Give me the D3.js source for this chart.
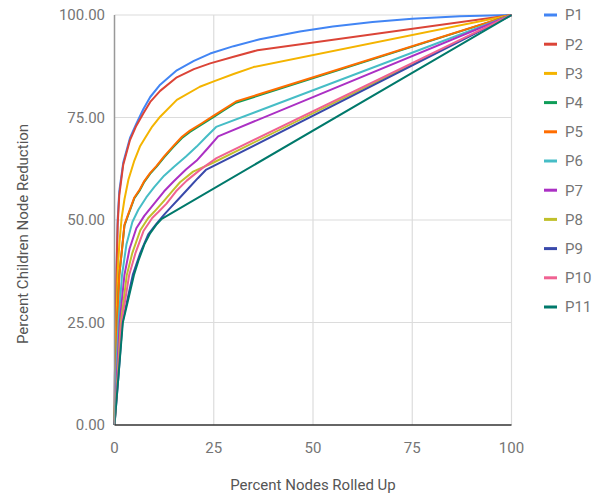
<!DOCTYPE html>
<html><head><meta charset="utf-8">
<script src="https://cdn.jsdelivr.net/npm/d3@7"></script>
<style>
body{margin:0;background:#fff;}
text{font-family:Roboto,"Noto Sans",sans-serif;}
</style></head>
<body><svg id="c" width="603" height="498"></svg>
<script>
const seriesNames = ["P1","P2","P3","P4","P5","P6","P7","P8","P9","P10","P11"];
const colors = ["#4285f4","#db4437","#f4b400","#0f9d58","#ff6d00","#46bdc6","#ab30c4","#c0c02b","#3949ab","#f06292","#00796b"];
const xTicks = [0,25,50,75,100];
const yTicks = [0,25,50,75,100];

const P1 = [[0,0],[0.1,12],[0.3,25],[0.5,38],[0.8,50],[1.2,57],[2.2,64],[3.9,70],[5.5,73.5],[7.25,77],[9,80],[11.5,83],[15.7,86.5],[20,88.8],[24.1,90.6],[30,92.4],[36.6,94.1],[46.7,96],[55,97.2],[65,98.3],[75,99.1],[87,99.7],[100,100]];
const P2 = [[0,0],[0.1,12],[0.3,25],[0.5,37],[0.8,49],[1.2,56],[2.2,63.5],[3.9,69.5],[5.5,73],[7.25,76],[9,78.8],[11.5,81.5],[15.7,84.8],[20,86.8],[24.1,88.2],[30,89.8],[36,91.4],[100,100]];
const P3 = [[0,0],[0.2,12],[0.5,25],[0.8,37],[1.2,44],[1.8,50.5],[2.5,55],[3.5,59.8],[5,64.5],[6.4,67.9],[7.7,70],[9.5,72.8],[11.5,75.2],[15.7,79.3],[21.5,82.5],[25,83.8],[30,85.6],[35,87.3],[100,100]];
const P4 = [[0,0],[0.3,12],[0.7,25],[1.2,36.5],[1.8,42],[2.5,48.6],[3.3,50.8],[5,55.3],[6.4,57.3],[7.5,59.3],[9,61.3],[10.6,63],[12.5,65.3],[14.8,67.8],[17,70],[19,71.5],[22,73.3],[24.9,75.1],[27.5,76.7],[30.6,78.6],[100,100]];
const P5 = [[0,0],[0.3,12],[0.7,25],[1.2,36.6],[1.8,42],[2.5,48.8],[3.3,51],[5,55.5],[6.4,57.5],[7.5,59.5],[9,61.5],[10.6,63.2],[12.5,65.5],[14.8,68],[17,70.3],[19,71.8],[22,73.6],[24.9,75.4],[27.5,77],[30.6,78.9],[100,100]];
const P6 = [[0,0],[0.4,12],[1,25],[1.9,36.6],[3,44],[4.5,49.5],[6,52.5],[8,55.5],[10,58],[12.5,60.8],[15,63],[18,65.5],[20.7,67.9],[23,70.2],[25.6,72.7],[100,100]];
const P7 = [[0,0],[0.6,12],[1.3,25],[2.5,36.6],[3.8,43],[5.5,48],[7.5,51],[10,54],[12.5,57],[15,59.5],[18,62.3],[20.7,64.5],[23.5,67.5],[26.1,70.4],[100,100]];
const P8 = [[0,0],[0.8,12],[1.6,25],[3.1,36.6],[4.5,42],[6.5,47.5],[8.5,50.5],[10,52],[12.3,54.5],[14.5,57],[16.5,59.2],[19.8,61.8],[24.7,63.9],[100,100]];
const P9 = [[0,0],[1,12],[2,25],[4.6,36.6],[6.5,42],[8.5,46.5],[10.5,49],[12.5,51.3],[14,52.9],[16.5,55.5],[19,58.1],[21,60.2],[23,62.2],[100,100]];
const P10 = [[0,0],[0.9,12],[1.8,25],[3.7,36.6],[5.3,42],[7.3,47.3],[9.5,50.5],[11.1,52],[13.1,54],[15.5,57],[18.2,59.6],[21,61.8],[23.2,63.4],[25.7,65.1],[100,100]];
const P11 = [[0,0],[1,12],[2.1,25],[4.9,36.6],[6,40],[7.5,44],[9,46.8],[10.5,48.8],[11.9,50.3],[100,100]];
const seriesData = [P1,P2,P3,P4,P5,P6,P7,P8,P9,P10,P11];

const svg = d3.select("#c");
const L = 114.5, R = 511.5, T = 15, B = 425;
const x = d3.scaleLinear().domain([0,100]).range([L,R]);
const y = d3.scaleLinear().domain([0,100]).range([B,T]);

// gridlines
svg.append("g").selectAll("line").data(xTicks.filter(d=>d>0)).join("line")
  .attr("x1",d=>x(d)).attr("x2",d=>x(d)).attr("y1",T).attr("y2",B)
  .attr("stroke","#dcdcdc").attr("stroke-width",1.2);
svg.append("g").selectAll("line").data(yTicks.filter(d=>d>0)).join("line")
  .attr("x1",L).attr("x2",R).attr("y1",d=>y(d)).attr("y2",d=>y(d))
  .attr("stroke","#dcdcdc").attr("stroke-width",1.2);

// y tick labels
svg.append("g").selectAll("text").data(yTicks).join("text")
  .attr("x",105).attr("y",d=>y(d)).attr("dy","0.36em")
  .attr("text-anchor","end").attr("font-size",15).attr("fill","#757575")
  .text(d=>d3.format(".2f")(d));
// x tick labels
svg.append("g").selectAll("text").data(xTicks).join("text")
  .attr("x",d=>x(d)).attr("y",453)
  .attr("text-anchor","middle").attr("font-size",15).attr("fill","#757575")
  .text(d=>d);

// lines
const line = d3.line().x(d=>x(d[0])).y(d=>y(d[1]));
svg.append("g").selectAll("path").data(seriesData).join("path")
  .attr("d",line).attr("fill","none")
  .attr("stroke",(d,i)=>colors[i]).attr("stroke-width",2)
  .attr("stroke-linejoin","round");

// axes lines
svg.append("line").attr("x1",L).attr("x2",L).attr("y1",T).attr("y2",B).attr("stroke","#999").attr("stroke-width",1.5);
svg.append("line").attr("x1",L).attr("x2",R).attr("y1",B).attr("y2",B).attr("stroke","#333").attr("stroke-width",1.5);

// axis titles
svg.append("text").attr("x",313).attr("y",490).attr("text-anchor","middle")
  .attr("font-size",15).attr("fill","#555").text("Percent Nodes Rolled Up");
svg.append("text").attr("transform","translate(28,234) rotate(-90)").attr("text-anchor","middle")
  .attr("font-size",15).attr("fill","#555").text("Percent Children Node Reduction");

// legend
const lg = svg.append("g").selectAll("g").data(seriesNames).join("g")
  .attr("transform",(d,i)=>`translate(0,${15+29.2*i})`);
lg.append("line").attr("x1",544).attr("x2",557).attr("y1",0).attr("y2",0)
  .attr("stroke",(d,i)=>colors[i]).attr("stroke-width",3);
lg.append("text").attr("x",565).attr("y",0).attr("dy","0.36em")
  .attr("font-size",15).attr("fill","#757575").text(d=>d);
</script></body></html>
